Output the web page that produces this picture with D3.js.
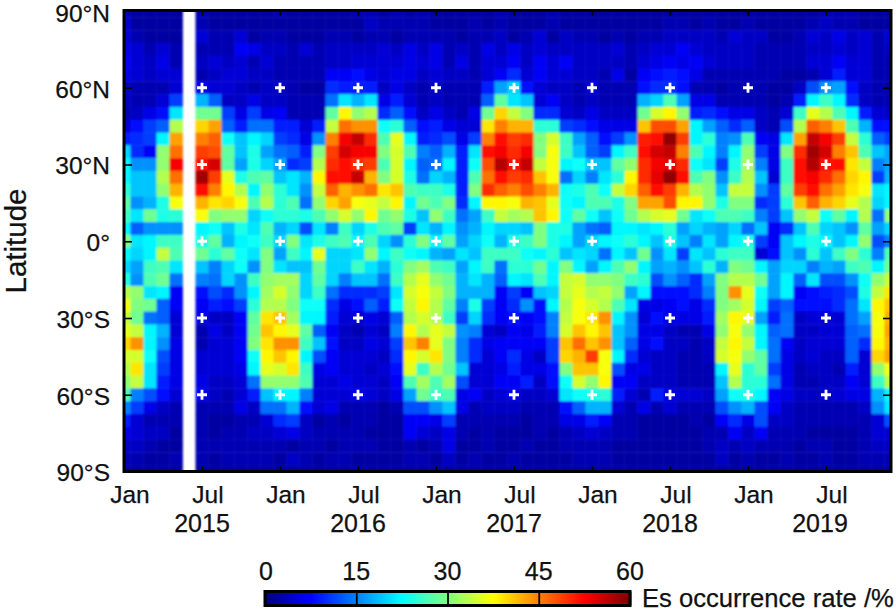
<!DOCTYPE html>
<html><head><meta charset="utf-8">
<script src="https://cdnjs.cloudflare.com/ajax/libs/d3/7.8.5/d3.min.js"></script>
<style>html,body{margin:0;padding:0;background:#fff}svg{display:block}text{font-family:"Liberation Sans",Arial,sans-serif;fill:#111;stroke:#111;stroke-width:.25}</style>
</head><body><svg id="c" width="896" height="612"></svg>
<script>
const monthCount = 60;
const lats = d3.range(90, -91, -5);
const _ = null;
const rN90 = [3,2,2,2,2,_,3,2,2,2,2,2,3,2,2,2,2,2,3,3,2, 3,2,3,2,2,2,2,2,3,2,2,2,3,2,2,2,2,2,2, 2,2,2,2,2,2,2,2,2,2,2,2,2,2,3,3,3,2,2,2];
const rN85 = [5,2,2,2,2,_,3,2,2,2,2,2,2,2,2,2,2,2,2,4,3, 3,3,3,2,2,2,3,2,3,2,2,2,3,2,2,2,2,2,2, 2,2,3,3,2,3,2,2,3,2,2,2,2,3,4,3,3,2,2,2];
const rN80 = [5,3,2,2,2,_,5,3,3,5,2,3,3,2,2,2,3,3,2,3,3, 2,3,3,3,3,2,3,3,4,2,3,5,2,4,3,3,2,3,2, 3,3,4,4,4,4,3,5,4,4,2,2,3,5,4,6,4,5,3,5];
const rN75 = [6,5,3,5,3,_,3,3,3,7,6,4,4,3,5,3,4,4,4,4,5, 4,6,4,6,3,4,3,6,4,6,4,5,4,4,4,4,4,5,3, 4,5,5,7,5,4,4,4,4,3,3,3,3,4,4,5,4,5,3,4];
const rN70 = [7,5,4,6,3,_,4,5,4,5,3,5,3,3,3,3,4,4,5,5,5, 5,6,5,6,3,6,3,5,5,7,4,7,5,7,4,4,4,4,3, 5,6,7,6,7,5,4,4,4,3,3,3,3,5,5,7,5,5,3,3];
const rN65 = [6,5,4,5,5,_,3,4,5,5,4,4,3,3,3,3,7,7,8,6,5, 6,6,4,5,4,4,3,5,7,10,5,7,5,5,4,4,3,6,2, 7,8,9,8,6,3,3,3,3,3,3,2,2,3,5,9,5,5,3,3];
const rN60 = [4,3,3,3,5,_,6,5,5,4,3,4,4,3,2,2,10,9,9,9,4, 6,4,3,4,3,3,3,9,17,20,8,5,4,4,3,5,3,3,3, 8,10,10,8,3,3,2,3,3,3,2,2,4,12,16,17,8,4,3,2];
const rN55 = [4,3,3,5,11,_,18,13,4,4,6,4,4,3,3,3,14,21,18,21,6, 9,5,3,4,3,3,3,13,28,21,19,5,7,4,3,4,3,3,3, 18,20,27,17,6,6,3,3,3,3,2,3,9,22,26,22,10,4,3,3];
const rN50 = [3,4,6,8,21,_,29,29,11,6,11,6,7,3,3,3,28,38,31,33,10, 13,8,4,6,4,3,6,29,40,34,30,10,10,5,4,6,4,4,4, 29,35,38,31,9,10,8,6,6,4,3,5,26,36,33,27,22,9,5,4];
const rN45 = [5,8,11,13,33,_,40,43,13,9,14,14,9,9,5,9,34,46,44,44,23, 25,13,8,9,6,5,5,39,45,42,42,25,25,11,10,8,6,6,6, 41,48,48,43,22,17,13,10,13,4,3,12,33,47,45,41,27,18,8,8];
const rN40 = [9,10,11,22,43,_,45,47,23,19,22,20,11,10,6,16,45,53,56,50,27, 36,22,9,10,12,6,11,45,52,49,50,30,35,26,17,13,8,11,16, 51,52,59,49,22,25,15,16,27,7,6,21,43,56,53,49,34,25,13,11];
const rN35 = [20,10,7,31,46,_,49,48,28,19,24,17,14,13,9,30,49,55,53,53,30, 35,27,15,13,18,9,21,52,53,50,53,30,37,26,19,13,11,22,26, 52,55,56,45,27,22,15,22,31,11,6,30,50,58,55,45,41,27,19,17];
const rN30 = [22,16,16,31,53,_,52,55,28,17,24,20,17,10,11,33,50,52,50,49,27, 35,22,13,14,22,9,23,48,57,52,56,34,37,22,23,19,19,28,31, 50,53,54,50,23,21,11,24,32,15,6,26,52,57,52,52,39,34,15,17];
const rN25 = [22,19,19,33,46,_,58,49,36,24,27,28,19,21,18,38,52,52,56,42,30, 35,24,14,20,18,9,27,46,52,49,50,41,37,14,20,15,21,25,38, 50,54,59,52,27,30,16,26,33,19,5,26,52,53,50,46,40,38,11,18];
const rN20 = [25,19,19,31,42,_,52,45,38,33,22,31,25,21,16,34,47,42,44,46,39, 41,27,26,26,24,9,30,50,47,45,48,45,42,23,24,27,23,34,40, 47,52,49,42,33,31,19,34,34,16,11,28,49,52,46,43,39,37,21,22];
const rN15 = [28,16,18,24,37,_,42,39,40,37,27,33,25,27,14,31,40,43,37,36,34, 38,22,29,27,30,10,22,38,38,37,42,41,36,23,22,27,27,24,30, 43,43,48,38,38,31,24,30,30,10,11,25,41,47,42,40,36,33,20,22];
const rN10 = [26,21,29,24,25,_,37,30,31,31,20,23,25,25,24,27,31,35,31,38,29, 31,24,19,31,26,14,17,26,34,32,33,41,38,23,28,23,19,23,29, 33,35,36,29,21,23,27,27,26,15,11,19,31,34,23,28,22,33,14,31];
const rN05 = [22,13,16,16,16,_,22,23,19,24,21,27,18,20,12,21,15,26,20,24,27, 28,11,21,18,22,16,18,22,20,20,19,30,24,24,17,14,13,22,22, 21,22,25,17,20,18,17,20,14,19,7,10,19,27,20,19,16,28,17,20];
const rEq0 = [30,21,22,26,26,_,24,28,18,22,23,26,20,30,21,24,26,27,22,27,20, 16,25,30,22,28,17,20,23,18,24,26,30,24,22,17,20,22,23,25, 22,19,24,19,15,21,17,22,24,11,7,19,22,24,22,19,22,31,12,15];
const rS05 = [22,20,22,34,27,_,29,25,28,23,21,30,17,26,22,36,20,20,21,31,22, 26,23,22,18,17,21,19,26,26,26,23,22,25,19,21,20,14,22,19, 29,16,21,11,21,19,25,26,26,5,8,19,16,25,19,26,30,25,15,27];
const rS10 = [20,17,26,27,21,_,19,15,20,23,16,30,21,19,19,29,20,20,26,21,18, 25,30,32,27,26,17,22,26,14,25,25,29,22,30,22,17,22,27,31, 22,17,18,16,19,25,18,30,29,22,17,20,20,15,18,17,26,27,22,29];
const rS15 = [24,16,27,29,14,_,15,14,20,16,26,31,32,32,20,28,20,15,19,19,14, 26,33,36,31,29,18,21,18,13,22,21,27,22,34,35,31,31,30,26, 25,12,16,13,10,17,30,33,33,29,17,22,13,21,12,12,16,23,31,34];
const rS20 = [33,31,21,22,7,_,8,12,10,16,22,32,35,31,20,26,14,10,10,10,11, 21,35,37,34,30,18,18,18,7,11,7,19,20,34,36,33,34,31,17, 22,8,8,8,10,15,30,44,36,23,17,22,7,8,9,10,12,24,34,39];
const rS25 = [37,30,29,13,7,_,7,9,8,11,25,33,33,30,23,23,10,6,8,13,9, 23,34,38,33,28,15,24,11,7,10,16,8,22,33,37,35,33,27,21, 6,6,7,8,6,10,30,32,35,22,11,13,8,8,8,10,14,21,38,41];
const rS30 = [34,29,14,13,5,_,6,4,4,7,28,39,41,32,22,22,9,5,5,6,5, 13,33,35,33,26,11,20,10,7,8,7,8,15,34,37,39,44,22,16, 5,8,6,6,6,9,32,38,36,17,9,14,4,5,5,5,14,17,37,42];
const rS35 = [36,34,22,18,5,_,3,6,4,7,29,41,38,36,28,13,7,4,3,5,4, 15,38,33,36,34,16,15,5,4,7,6,9,15,35,41,38,41,19,16, 6,6,4,3,3,6,31,37,31,22,13,14,4,4,5,5,13,14,37,43];
const rS40 = [40,44,22,16,6,_,3,5,5,7,30,39,44,44,26,19,8,4,4,6,5, 11,41,45,36,30,15,10,6,7,7,7,7,11,41,46,41,44,19,13, 6,8,4,4,3,4,34,38,34,22,14,7,4,5,5,5,13,10,38,42];
const rS45 = [35,35,23,12,6,_,5,5,5,7,23,38,41,38,22,12,7,5,5,5,4, 10,38,35,39,30,15,10,5,7,10,6,4,11,40,42,49,37,22,10, 5,4,4,3,3,4,35,37,31,28,14,6,4,5,4,4,13,5,40,43];
const rS50 = [33,39,21,11,6,_,5,5,5,6,22,36,35,39,26,6,7,5,5,4,5, 8,36,26,33,29,19,5,5,6,9,6,6,8,30,41,41,37,12,6, 6,4,4,3,3,3,22,36,25,28,11,6,3,4,4,3,9,5,31,37];
const rS55 = [31,34,21,9,6,_,6,4,4,5,14,31,31,31,27,5,5,6,5,5,4, 7,27,32,27,32,12,5,5,7,7,9,4,8,23,35,31,38,7,7, 4,4,4,3,3,3,19,33,25,25,14,6,3,3,4,4,7,5,26,33];
const rS60 = [27,15,12,8,5,_,6,4,3,5,9,19,22,22,15,5,5,5,6,5,4, 6,17,29,26,27,6,7,4,5,6,4,4,5,21,23,24,25,9,5, 3,9,5,5,5,4,17,23,24,22,7,6,4,4,4,5,6,6,18,22];
const rS65 = [15,11,6,4,3,_,3,3,3,6,4,14,14,18,8,5,6,3,3,3,2, 3,12,12,16,19,6,3,4,4,4,3,3,3,8,13,18,18,5,3, 6,3,5,3,3,3,12,16,18,12,7,4,3,3,3,3,3,4,16,21];
const rS70 = [9,5,3,3,3,_,3,2,2,3,3,5,10,11,4,2,3,2,3,3,2, 2,7,7,6,11,3,3,3,3,3,2,3,3,6,6,9,7,3,3, 2,2,2,2,3,2,7,10,6,12,4,4,3,3,3,3,3,3,5,12];
const rS75 = [6,5,4,4,2,_,3,2,3,3,4,4,5,6,4,3,3,3,3,2,2, 2,7,5,4,6,3,2,3,2,2,2,3,2,3,4,5,4,3,3, 2,2,2,2,2,3,3,7,4,7,3,3,3,2,2,2,2,3,5,5];
const rS80 = [4,4,3,2,2,_,3,3,3,3,3,3,3,2,3,3,2,3,3,3,2, 2,3,2,3,6,2,2,3,2,2,3,2,2,3,3,3,3,2,2, 2,2,2,2,2,3,4,3,4,3,3,3,2,3,3,2,2,3,4,4];
const rS85 = [3,3,2,2,3,_,3,2,3,3,3,3,2,4,3,2,3,3,2,2,2, 2,3,3,2,4,2,3,2,2,3,2,2,2,2,3,3,3,2,2, 2,2,2,2,2,2,4,2,3,2,2,3,2,2,3,2,2,3,3,3];
const rS90 = [2,2,2,2,2,_,2,2,2,2,2,2,2,2,2,2,2,2,2,2,2, 2,2,2,2,2,2,2,2,2,2,2,2,2,2,2,2,2,2,2, 2,2,2,2,2,2,2,2,2,2,2,2,2,2,2,2,2,2,2,2];
const rows = [rN90,rN85,rN80,rN75,rN70,rN65,rN60,rN55,rN50,rN45,rN40,rN35,rN30,rN25,rN20,rN15,rN10,rN05,rEq0,rS05,rS10,rS15,rS20,rS25,rS30,rS35,rS40,rS45,rS50,rS55,rS60,rS65,rS70,rS75,rS80,rS85,rS90];

const monthTicks = [6,12,18,24,30,36,42,48,54];
const monthLabels = ["Jan","Jul","Jan","Jul","Jan","Jul","Jan","Jul","Jan","Jul"];
const monthLabelAt = [0,6,12,18,24,30,36,42,48,54];
const years = ["2015","2016","2017","2018","2019"];
const yearAt = [6,18,30,42,54];
const latTicks = [90,60,30,0,-30,-60,-90];
const latNames = ["90°N","60°N","30°N","0°","30°S","60°S","90°S"];
const markLats = [60,30,0,-30,-60];
const cbarTicks = [0,15,30,45,60];

const L=124, R=891, T=11, B=471.5;
const x = d3.scaleLinear().domain([0,59]).range([L,R]);
const y = d3.scaleLinear().domain([90,-90]).range([T,B]);
const color = d3.scaleLinear().domain([0,7.5,22.5,37.5,52.5,60])
  .range(["#000080","#0000ff","#00ffff","#ffff00","#ff0000","#800000"]).clamp(true);
const svg = d3.select("#c");
const defs = svg.append("defs");
defs.append("clipPath").attr("id","plot").append("rect").attr("x",L).attr("y",T).attr("width",R-L).attr("height",B-T);
defs.append("filter").attr("id","soft").attr("x","-2%").attr("y","-2%").attr("width","104%").attr("height","104%")
  .append("feGaussianBlur").attr("stdDeviation",0.8);

const dx = x(1)-x(0), dy = y(85)-y(90);
const heat = svg.append("g").attr("clip-path","url(#plot)").append("g").attr("filter","url(#soft)");
rows.forEach((row,ri)=>{
  heat.append("g").selectAll("rect").data(row.map((v,i)=>({v,i})).filter(d=>d.v!==null)).join("rect")
    .attr("x",d=>x(d.i)-dx/2).attr("y",y(lats[ri])-dy/2)
    .attr("width",dx+0.4).attr("height",dy+0.4).attr("fill",d=>color(d.v));
});

// white markers
const marks = svg.append("g").attr("stroke","#fff").attr("stroke-width",2.8);
monthTicks.forEach(m=>markLats.forEach(la=>{
  marks.append("path").attr("d",`M${x(m)-5},${y(la)}h10M${x(m)},${y(la)-5}v10`);
}));

// inner ticks via axes
const axT = svg.append("g").attr("transform",`translate(0,${T})`).call(d3.axisTop(x).tickValues(monthTicks).tickSize(-5).tickFormat(""));
const axB = svg.append("g").attr("transform",`translate(0,${B})`).call(d3.axisBottom(x).tickValues(monthTicks).tickSize(-5).tickFormat(""));
const axR = svg.append("g").attr("transform",`translate(${R},0)`).call(d3.axisRight(y).tickValues(markLats).tickSize(-8).tickFormat(""));
const axL = svg.append("g").attr("transform",`translate(${L},0)`).call(d3.axisLeft(y).tickValues(latTicks).tickSize(-8)
   .tickPadding(14).tickFormat((d,i)=>latNames[i]));
axL.selectAll("text").attr("font-size",24.5).attr("dy",0).attr("y",d=>d===90?10.8:9.4).attr("x",-14).attr("fill","#111");
axL.selectAll("line").filter(d=>Math.abs(d)===90).remove();
[axT,axB,axR,axL].forEach(a=>{a.select(".domain").remove();a.selectAll("line").attr("stroke","#000").attr("stroke-width",1.6)});

svg.append("rect").attr("x",L).attr("y",T-0.5).attr("width",R-L).attr("height",B-T+0.5).attr("fill","none").attr("stroke","#000").attr("stroke-width",3);

// x labels
svg.append("g").selectAll("text").data(monthLabels).join("text")
  .attr("x",(d,i)=>x(monthLabelAt[i])+6).attr("y",503).attr("text-anchor","middle").attr("font-size",24.5).text(d=>d);
svg.append("g").selectAll("text").data(years).join("text")
  .attr("x",(d,i)=>x(yearAt[i])-(i===4?6:0)).attr("y",531.5).attr("text-anchor","middle").attr("font-size",25).text(d=>d);
svg.append("text").attr("transform","translate(26,241) rotate(-90)").attr("text-anchor","middle").attr("font-size",29.5).text("Latitude");

// colour bar
const cx = d3.scaleLinear().domain([0,60]).range([265,630]);
const grad = defs.append("linearGradient").attr("id","jet");
color.domain().forEach(v=>grad.append("stop").attr("offset",v/60).attr("stop-color",color(v)));
svg.append("rect").attr("x",cx(0)).attr("y",591.5).attr("width",cx(60)-cx(0)).attr("height",14).attr("fill","url(#jet)").attr("stroke","#000").attr("stroke-width",3);
const axC = svg.append("g").attr("transform","translate(0,605.5)").call(d3.axisBottom(cx).tickValues(cbarTicks).tickSize(-14).tickFormat(""));
axC.select(".domain").remove();
axC.selectAll("line").attr("stroke","#000").attr("stroke-width",1.8);
svg.append("g").selectAll("text").data(cbarTicks).join("text")
  .attr("x",d=>cx(d)+(d===0?1:0)).attr("y",580).attr("text-anchor","middle").attr("font-size",25).text(d=>d);
svg.append("text").attr("x",642).attr("y",606.5).attr("font-size",25.6).text("Es occurrence rate /%");
</script></body></html>
